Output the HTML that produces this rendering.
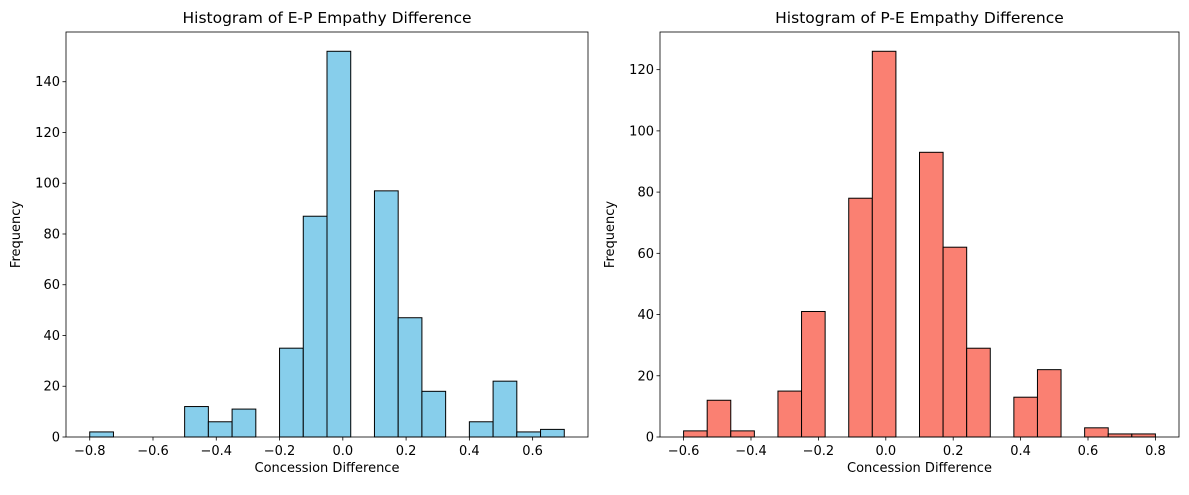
<!DOCTYPE html>
<html><head><meta charset="utf-8"><style>
body{margin:0;background:#fff;font-family:"Liberation Sans","DejaVu Sans",sans-serif;}
svg text{font-family:"DejaVu Sans","Liberation Sans",sans-serif;}
</style></head><body>
<svg id="chart" width="1189" height="490" xmlns="http://www.w3.org/2000/svg"></svg>
<script>
const epCounts=[2,0,0,0,12,6,11,0,35,87,152,0,97,47,18,0,6,22,2,3];
const epRange=[-0.8,0.7];
const epXTicks=[-0.8,-0.6,-0.4,-0.2,0.0,0.2,0.4,0.6];
const epYTicks=[0,20,40,60,80,100,120,140];
const peCounts=[2,12,2,0,15,41,0,78,126,0,93,62,29,0,13,22,0,3,1,1];
const peRange=[-0.6,0.8];
const peXTicks=[-0.6,-0.4,-0.2,0.0,0.2,0.4,0.6,0.8];
const peYTicks=[0,20,40,60,80,100,120];
const NS="http://www.w3.org/2000/svg";
const svg=document.getElementById('chart');
function mk(tag,attrs,parent){const e=document.createElementNS(NS,tag);for(const k in attrs)e.setAttribute(k,attrs[k]);(parent||svg).appendChild(e);return e;}
function panel(name,title,counts,range,xt,yt,color,L,R,T,B){
  const g=mk('g',{});
  
  
  const span=range[1]-range[0];
  const x0=range[0]-span*0.05,x1=range[1]+span*0.05;
  const ymax=Math.max(...counts)*1.05;
  const sx=v=>L+(v-x0)/(x1-x0)*(R-L);
  const sy=v=>B-v/ymax*(B-T);
  const w=span/counts.length;
  counts.forEach((c,i)=>{
    if(c<=0)return;
    const a=range[0]+i*w;
    const r=mk('rect',{x:sx(a),y:sy(c),width:sx(a+w)-sx(a),height:sy(0)-sy(c),fill:color,stroke:'#000','stroke-width':1},g);
    
    
  });
  const f=mk('rect',{x:L,y:T,width:R-L,height:B-T,fill:'none',stroke:'#000','stroke-width':0.8},g);
  
  
  xt.forEach(v=>{
    const x=sx(v);
    mk('line',{x1:x,x2:x,y1:B,y2:B+3.5,stroke:'#000','stroke-width':0.8},g);
    const t=mk('text',{x:x,y:B+18,'font-size':13,'text-anchor':'middle'},g);
    t.textContent=(v<0?'\u2212':'')+Math.abs(v).toFixed(1);
    
    
  });
  yt.forEach(v=>{
    const y=sy(v);
    mk('line',{x1:L-3.5,x2:L,y1:y,y2:y,stroke:'#000','stroke-width':0.8},g);
    const t=mk('text',{x:L-6,y:y+4.5,'font-size':13,'text-anchor':'end'},g);
    t.textContent=v;
    
    
  });
  const tt=mk('text',{x:(L+R)/2,y:T-9,'font-size':15.5,'text-anchor':'middle'},g);
  tt.textContent=title;
  
  
  const xl=mk('text',{x:(L+R)/2,y:B+35,'font-size':13,'text-anchor':'middle'},g);
  xl.textContent='Concession Difference';
  
  
  const yl=mk('text',{x:0,y:0,'font-size':13,'text-anchor':'middle',transform:`translate(${L-46},${(T+B)/2}) rotate(-90)`},g);
  yl.textContent='Frequency';
  
  
}
panel('ep-histogram','Histogram of E-P Empathy Difference',epCounts,epRange,epXTicks,epYTicks,'#87ceeb',66,588,32,437);
panel('pe-histogram','Histogram of P-E Empathy Difference',peCounts,peRange,peXTicks,peYTicks,'#fa8072',660,1179,32,437);
</script>
</body></html>
